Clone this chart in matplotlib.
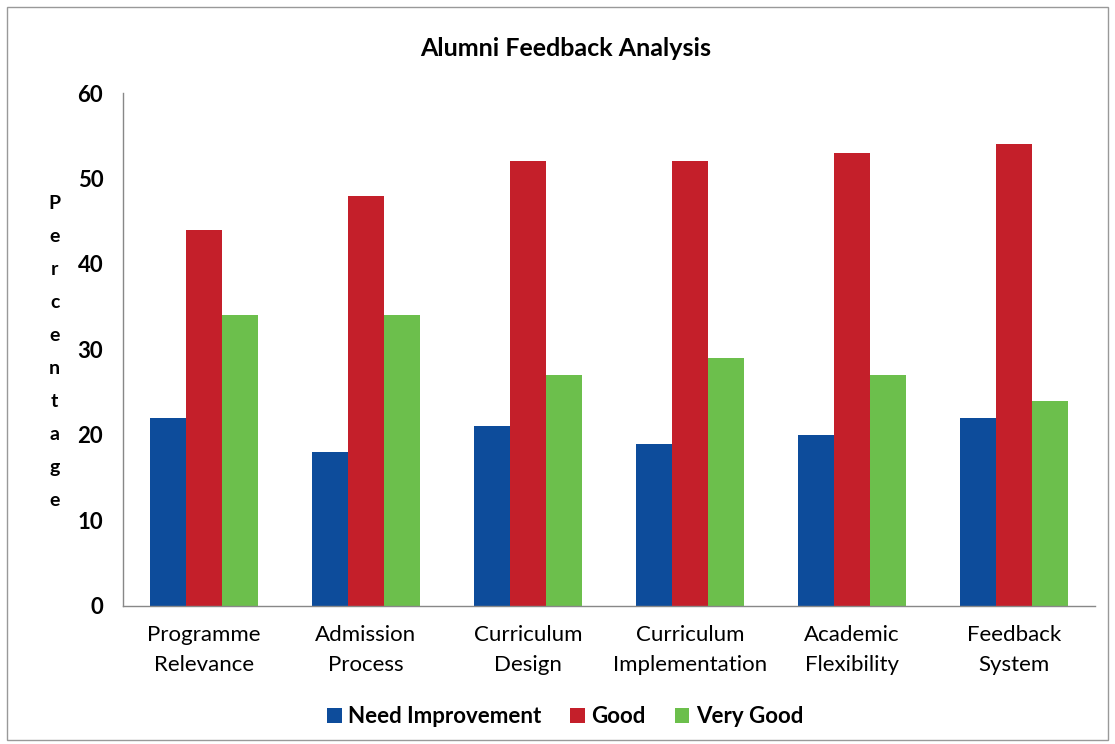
import matplotlib
matplotlib.use("Agg")
import matplotlib.pyplot as plt
import numpy as np
from matplotlib.patches import Rectangle

categories = ["Programme\nRelevance", "Admission\nProcess", "Curriculum\nDesign",
              "Curriculum\nImplementation", "Academic\nFlexibility", "Feedback\nSystem"]
need_improvement = [22, 18, 21, 19, 20, 22]
good = [44, 48, 52, 52, 53, 54]
very_good = [34, 34, 27, 29, 27, 24]
series_names = ["Need Improvement", "Good", "Very Good"]
colors = ["#0D4C9B", "#C41F2A", "#6CBF4C"]
yticks = [0, 10, 20, 30, 40, 50, 60]

plt.rcParams['font.family'] = ['Lato', 'DejaVu Sans']

fig = plt.figure(figsize=(11.15, 7.44), dpi=100)
ax = fig.add_axes([0.110, 0.1855, 0.872, 0.6895])

x = np.arange(len(categories))
w = 0.222
for i, (vals, name, c) in enumerate(zip([need_improvement, good, very_good], series_names, colors)):
    ax.bar(x + (i - 1) * w, vals, width=w, color=c, label=name)

ax.set_xlim(-0.5, len(categories) - 0.5)
ax.set_ylim(0, 60)
ax.set_yticks(yticks)
ax.set_yticklabels([str(t) for t in yticks], fontsize=16, fontweight='bold')
ax.set_xticks(x)
ax.set_xticklabels(categories, fontsize=16, linespacing=1.6)
ax.tick_params(axis='both', length=0)
ax.tick_params(axis='y', pad=14)
ax.tick_params(axis='x', pad=14)
for s in ['top', 'right']:
    ax.spines[s].set_visible(False)
for s in ['left', 'bottom']:
    ax.spines[s].set_color('#888888')
    ax.spines[s].set_linewidth(1.0)

fig.text(0.507, 0.935, "Alumni Feedback Analysis", ha='center', va='center',
         fontsize=18, fontweight='bold')
fig.text(0.049, 0.527, "\n".join("Percentage"), ha='center', va='center',
         fontsize=14, fontweight='bold', linespacing=2.14)

leg = fig.legend(loc='center', bbox_to_anchor=(0.507, 0.037), ncol=3, frameon=False,
                 handlelength=0.65, handleheight=0.65, columnspacing=1.3,
                 handletextpad=0.3, prop={'weight': 'bold', 'size': 16})

fig.add_artist(Rectangle((0.006, 0.006), 0.988, 0.985, transform=fig.transFigure,
                         fill=False, edgecolor='#999999', linewidth=1.0))

fig.savefig("out.png", dpi=100)
